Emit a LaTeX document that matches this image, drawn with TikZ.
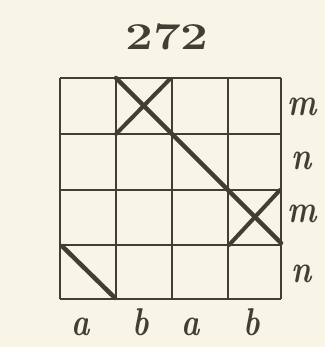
\documentclass[tikz,border=0pt]{standalone}
\definecolor{paper}{RGB}{248,245,230}
\definecolor{ink}{RGB}{66,62,52}
\begin{document}
\begin{tikzpicture}[x=1pt,y=-1pt,
  gridline/.style={draw=ink,line width=1.8pt},
  thick diag/.style={draw=ink,line width=4.5pt,line cap=round},
  lbl/.style={text=ink,inner sep=0pt,yscale=1.25,font=\fontsize{31}{31}\selectfont\bfseries\itshape},
  title/.style={text=ink,inner sep=0pt,xscale=1.3,font=\fontsize{38}{38}\selectfont\bfseries}]
\fill[paper] (0,0) rectangle (325,347);
\useasboundingbox (0,0) rectangle (325,347);
% grid
\foreach \x in {60,116,172,228,281} \draw[gridline] (\x,78) -- (\x,299);
\foreach \y in {78,134,190,245,299} \draw[gridline] (60,\y) -- (281,\y);
% diagonals
\coordinate (d1s) at (116,78);
\coordinate (d1e) at (281,243);
\draw[thick diag] (d1s) -- (d1e);
\coordinate (x1s) at (116,134);
\coordinate (x1e) at (170,79);
\draw[thick diag,line width=4pt] (x1s) -- (x1e);
\coordinate (x2s) at (229,245);
\coordinate (x2e) at (280,190);
\draw[thick diag,line width=4pt] (x2s) -- (x2e);
\coordinate (d2s) at (62,246);
\coordinate (d2e) at (115,298);
\draw[thick diag] (d2s) -- (d2e);
% title
\node[title] (t) at (167,37) {272};
% right labels
\node[lbl] (m1) at (302,107) {m};
\node[lbl] (n1) at (302,161) {n};
\node[lbl] (m2) at (302,214) {m};
\node[lbl] (n2) at (302,274) {n};
% bottom labels
\node[lbl,anchor=base] (a1) at (81,335) {a};
\node[lbl,anchor=base] (b1) at (141,335) {b};
\node[lbl,anchor=base] (a2) at (191,335) {a};
\node[lbl,anchor=base] (b2) at (252,335) {b};
\end{tikzpicture}
\end{document}
